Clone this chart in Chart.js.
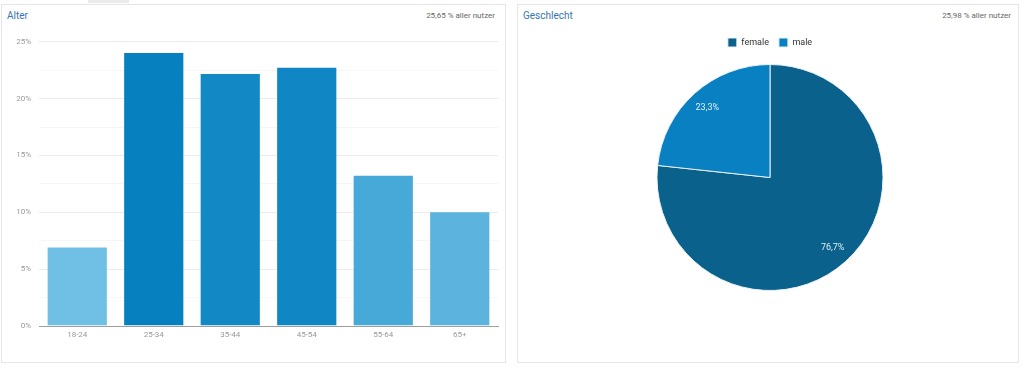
<!DOCTYPE html>
<html>
<head>
<meta charset="utf-8">
<script src="https://cdn.jsdelivr.net/npm/chart.js@4/dist/chart.umd.min.js"></script>
<style>
    body { margin: 0; background: #fff; font-family: Roboto, Arial, sans-serif; }
    .tab { position: absolute; left: 88px; top: 0; width: 41px; height: 3px; background: #ebebeb; }
    .panel { position: absolute; top: 4px; height: 357px; border: 1px solid #e6e6e6; box-sizing: content-box; }
    .title { position: absolute; left: 5px; top: 5px; font-size: 10px; color: #3576b3; }
    .share { position: absolute; top: 6px; font-size: 8px; color: #666; }
    canvas { position: absolute; }
</style>
</head>
<body>
<div class="tab"></div>
<div class="panel" style="left:1px;width:503px">
    <div class="title">Alter</div>
    <div class="share" style="right:10px">25,65 % aller nutzer</div>
</div>
<div class="panel" style="left:517px;width:500px">
    <div class="title">Geschlecht</div>
    <div class="share" style="right:7px">25,98 % aller nutzer</div>
</div>
<canvas id="alter" style="left:1px;top:29px;width:504px;height:331px"></canvas>
<canvas id="geschlecht" style="left:540px;top:28px;width:460px;height:300px"></canvas>

<script>
    // Altersgruppen
    const ageGroups = ["18-24", "25-34", "35-44", "45-54", "55-64", "65+"];
    const ageShares = [7.0, 24.1, 22.25, 22.8, 13.3, 10.1];
    const ageColors = ["#70bfe4", "#0780c0", "#1289c5", "#1087c4", "#46a9d8", "#5bb3de"];
    const ageTicks = [0, 5, 10, 15, 20, 25];

    // Geschlecht
    const genders = ["female", "male"];
    const genderShares = [76.7, 23.3];
    const genderColors = ["#09618c", "#0880c1"];

    const tickFont = {family: "Roboto, Arial, sans-serif", size: 8};

    new Chart(document.getElementById("alter"), {
        type: "bar",
        data: {
            labels: ageGroups,
            datasets: [{
                data: ageShares,
                backgroundColor: ageColors,
                borderColor: "rgba(255,255,255,0.3)",
                borderWidth: 1,
                barPercentage: 1,
                categoryPercentage: 0.8
            }]
        },
        options: {
            responsive: false,
            animation: false,
            layout: {padding: {top: 6, right: 7}},
            plugins: {legend: {display: false}, tooltip: {enabled: false}},
            scales: {
                x: {
                    grid: {display: false, drawTicks: false},
                    border: {color: "#9e9e9e", width: 1},
                    ticks: {color: "#999", font: tickFont, padding: 4},
                    afterFit: s => { s.height = 34 }
                },
                y: {
                    min: 0,
                    max: 25,
                    afterBuildTicks: s => {
                        // halbe Schritte nur als Gitterlinien
                        let t = [];
                        ageTicks.forEach((v, i) => {
                            t.push({value: v});
                            if (i < ageTicks.length - 1) t.push({value: v + 2.5, minor: true});
                        });
                        s.ticks = t;
                    },
                    border: {display: false},
                    grid: {
                        drawTicks: false,
                        color: c => (c.tick && c.tick.minor) ? "#f6f6f6" : "#ebebeb"
                    },
                    ticks: {
                        color: "#999",
                        font: tickFont,
                        padding: 8,
                        callback: v => ageTicks.includes(v) ? v + "%" : ""
                    },
                    afterFit: s => { s.width = 38 }
                }
            }
        }
    });

    const sliceLabels = {
        id: "sliceLabels",
        afterDatasetsDraw(chart) {
            const ctx = chart.ctx;
            const meta = chart.getDatasetMeta(0);
            ctx.save();
            ctx.font = "9px Roboto, Arial, sans-serif";
            ctx.fillStyle = "#e3eef6";
            ctx.textAlign = "center";
            ctx.textBaseline = "middle";
            meta.data.forEach((arc, i) => {
                const mid = (arc.startAngle + arc.endAngle) / 2;
                const r = arc.outerRadius * 0.83;
                const txt = genderShares[i].toFixed(1).replace(".", ",") + "%";
                ctx.fillText(txt, arc.x + Math.cos(mid) * r, arc.y + Math.sin(mid) * r);
            });
            ctx.restore();
        }
    };

    new Chart(document.getElementById("geschlecht"), {
        type: "pie",
        data: {
            labels: genders,
            datasets: [{
                data: genderShares,
                backgroundColor: genderColors,
                borderColor: "#e8f0f6",
                borderWidth: 1,
                hoverOffset: 0,
                radius: 113
            }]
        },
        options: {
            responsive: false,
            animation: false,
            layout: {padding: {bottom: 30}},
            plugins: {
                tooltip: {enabled: false},
                legend: {
                    labels: {
                        boxWidth: 9,
                        boxHeight: 9,
                        padding: 10,
                        color: "#333",
                        font: {family: "Roboto, Arial, sans-serif", size: 9}
                    }
                }
            }
        },
        plugins: [sliceLabels]
    });
</script>
</body>
</html>
